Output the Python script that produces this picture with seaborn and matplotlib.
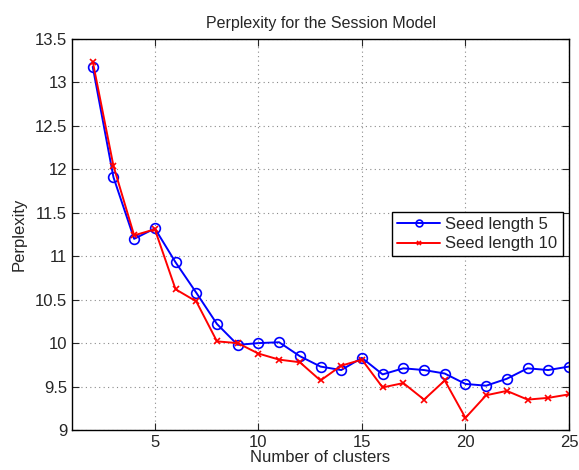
import matplotlib
matplotlib.use("Agg")
import matplotlib.pyplot as plt
import seaborn as sns
import pandas as pd

clusters = list(range(2, 26))
seed5 = [13.18, 11.91, 11.20, 11.32, 10.93, 10.58, 10.22, 9.98, 10.00, 10.01,
         9.85, 9.73, 9.69, 9.83, 9.64, 9.71, 9.69, 9.65, 9.53, 9.51,
         9.59, 9.71, 9.69, 9.73]
seed10 = [13.24, 12.04, 11.24, 11.31, 10.62, 10.48, 10.02, 10.00, 9.88, 9.81,
          9.78, 9.57, 9.74, 9.81, 9.49, 9.54, 9.35, 9.57, 9.14, 9.40,
          9.45, 9.35, 9.37, 9.41]
labels = ["Seed length 5", "Seed length 10"]

df = pd.DataFrame({"clusters": clusters, labels[0]: seed5, labels[1]: seed10})

sns.set_style("ticks")
plt.rcParams["font.family"] = ["Liberation Sans", "DejaVu Sans"]

fig = plt.figure(figsize=(5.79, 4.70), dpi=100)
ax = fig.add_axes([0.1244, 0.0851, 0.8583, 0.8319])

sns.lineplot(data=df, x="clusters", y=labels[0], ax=ax, color="blue", lw=1.4,
             marker="o", markersize=7, markerfacecolor="none",
             markeredgecolor="blue", markeredgewidth=1.2, label=labels[0])
sns.lineplot(data=df, x="clusters", y=labels[1], ax=ax, color="red", lw=1.4,
             marker="x", markersize=5, markeredgecolor="red",
             markeredgewidth=1.2, label=labels[1])

ax.set_xlim(1, 25)
ax.set_ylim(9, 13.5)
ax.set_xticks([5, 10, 15, 20, 25])
ax.set_yticks([9, 9.5, 10, 10.5, 11, 11.5, 12, 12.5, 13, 13.5])
ax.set_yticklabels(["9", "9.5", "10", "10.5", "11", "11.5", "12", "12.5", "13", "13.5"])
ax.grid(True, linestyle=(0, (1, 3)), color="#8a8a8a", linewidth=0.8)
ax.tick_params(direction="in", labelsize=12, length=5, top=True, right=True)
for s in ax.spines.values():
    s.set_visible(True)
    s.set_linewidth(1.0)
    s.set_color("black")

ax.set_title("Perplexity for the Session Model", fontsize=11.5, pad=8)
ax.set_xlabel("Number of clusters", fontsize=12, labelpad=0)
ax.set_ylabel("Perplexity", fontsize=12, labelpad=6)

leg = ax.legend(loc="upper right", bbox_to_anchor=(0.987, 0.557), fontsize=12,
                frameon=True, fancybox=False, handlelength=2.6,
                borderpad=0.3, labelspacing=0.25, handletextpad=0.3,
                borderaxespad=0, markerscale=0.7)
leg.get_frame().set_edgecolor("black")
leg.get_frame().set_linewidth(1.0)
leg.get_frame().set_alpha(1)

fig.savefig("out.png", dpi=100)
plt.close(fig)
